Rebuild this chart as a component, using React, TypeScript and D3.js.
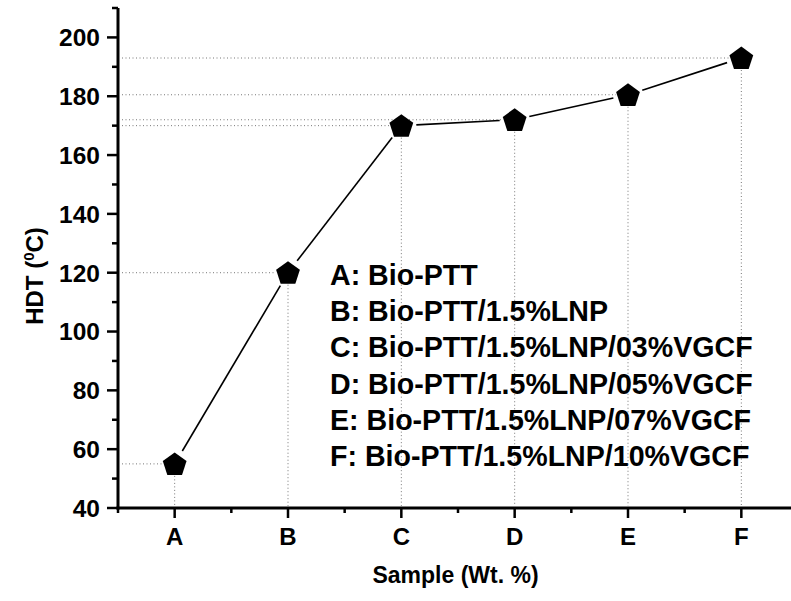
import React from 'react'
import { scalePoint, scaleLinear, range } from 'd3'

const CATEGORIES = ['A', 'B', 'C', 'D', 'E', 'F']
const HDT_VALUES = [55, 120, 170, 172, 180.5, 193]
const Y_TICKS = [40, 60, 80, 100, 120, 140, 160, 180, 200]
const LEGEND_LINES = [
    'A: Bio-PTT',
    'B: Bio-PTT/1.5%LNP',
    'C: Bio-PTT/1.5%LNP/03%VGCF',
    'D: Bio-PTT/1.5%LNP/05%VGCF',
    'E: Bio-PTT/1.5%LNP/07%VGCF',
    'F: Bio-PTT/1.5%LNP/10%VGCF',
]

const width = 791
const height = 601
const margin = { top: 8, right: -7, bottom: 93, left: 118 }
const font = '"Liberation Sans", Arial, Helvetica, sans-serif'

// regular pentagon, point up
const pentagon = (cx: number, cy: number, r: number) =>
    range(5).map(i => {
        const a = -Math.PI / 2 + (i * 2 * Math.PI) / 5
        return `${cx + r * Math.cos(a)},${cy + r * Math.sin(a)}`
    }).join(' ')

const App = () => {
    const x = scalePoint<string>()
        .domain(CATEGORIES)
        .range([margin.left, width - margin.right])
        .padding(0.5)

    const y = scaleLinear()
        .domain([40, 210])
        .range([height - margin.bottom, margin.top])

    const x0 = margin.left
    const y0 = height - margin.bottom
    const step = x.step()

    const points = CATEGORIES.map((c, i) => ({ c, v: HDT_VALUES[i], px: x(c) as number, py: y(HDT_VALUES[i]) }))

    // line segments with a small gap around each marker
    const gap = 15
    const segments = points.slice(1).map((p, i) => {
        const q = points[i]
        const dx = p.px - q.px
        const dy = p.py - q.py
        const len = Math.sqrt(dx * dx + dy * dy)
        const ux = dx / len
        const uy = dy / len
        return { x1: q.px + ux * gap, y1: q.py + uy * gap, x2: p.px - ux * gap, y2: p.py - uy * gap }
    })

    const minorY = range(50, 211, 20)
    const minorX = range(0, CATEGORIES.length + 1).map(i => x0 + i * step)

    return (
        <svg width={width} height={height} style={{ position: 'absolute', left: 0, top: 0, background: '#fff' }}
            fontFamily={font} fontWeight="bold">
            {/* drop lines */}
            {points.map(p => (
                <g key={'d' + p.c} stroke="#777" strokeWidth={1} strokeDasharray="1,2.5">
                    <line x1={x0 + 4} x2={p.px - 12} y1={p.py} y2={p.py} />
                    <line x1={p.px} x2={p.px} y1={p.py + 12} y2={y0 - 2} />
                </g>
            ))}

            {segments.map((s, i) => (
                <line key={'s' + i} {...s} stroke="#000" strokeWidth={1.6} />
            ))}

            {points.map(p => (
                <polygon key={'m' + p.c} points={pentagon(p.px, p.py + 1, 12.5)} fill="#000" />
            ))}

            {/* y axis */}
            <line x1={x0} x2={x0} y1={margin.top} y2={y0 + 1.5} stroke="#000" strokeWidth={3} />
            {Y_TICKS.map(t => (
                <g key={'yt' + t}>
                    <line x1={x0 - 11} x2={x0} y1={y(t)} y2={y(t)} stroke="#000" strokeWidth={2.5} />
                    <text x={x0 - 18} y={y(t)} dy="0.36em" textAnchor="end" fontSize={24.5}>{t}</text>
                </g>
            ))}
            {minorY.map(t => (
                <line key={'ym' + t} x1={x0 - 6} x2={x0} y1={y(t)} y2={y(t)} stroke="#000" strokeWidth={2.5} />
            ))}

            {/* x axis */}
            <line x1={x0 - 1.5} x2={width} y1={y0} y2={y0} stroke="#000" strokeWidth={3} />
            {CATEGORIES.map(c => (
                <g key={'xt' + c}>
                    <line x1={x(c)} x2={x(c)} y1={y0} y2={y0 + 10} stroke="#000" strokeWidth={2.5} />
                    <text x={x(c)} y={545} textAnchor="middle" fontSize={24}>{c}</text>
                </g>
            ))}
            {minorX.map(m => (
                <line key={'xm' + m} x1={m} x2={m} y1={y0} y2={y0 + 5} stroke="#000" strokeWidth={2.5} />
            ))}

            {/* axis titles */}
            <text x={(x0 + width) / 2 + 1} y={583} textAnchor="middle" fontSize={23}>Sample (Wt. %)</text>
            <text transform="translate(43,276) rotate(-90)" textAnchor="middle" fontSize={24}>
                HDT (<tspan fontSize={15} dy="-9">0</tspan><tspan dy="9">C)</tspan>
            </text>

            {/* legend */}
            {LEGEND_LINES.map((l, i) => (
                <text key={'l' + i} x={330} y={285 + i * 36.2} fontSize={28.6}>{l}</text>
            ))}
        </svg>
    )
}

export default App
